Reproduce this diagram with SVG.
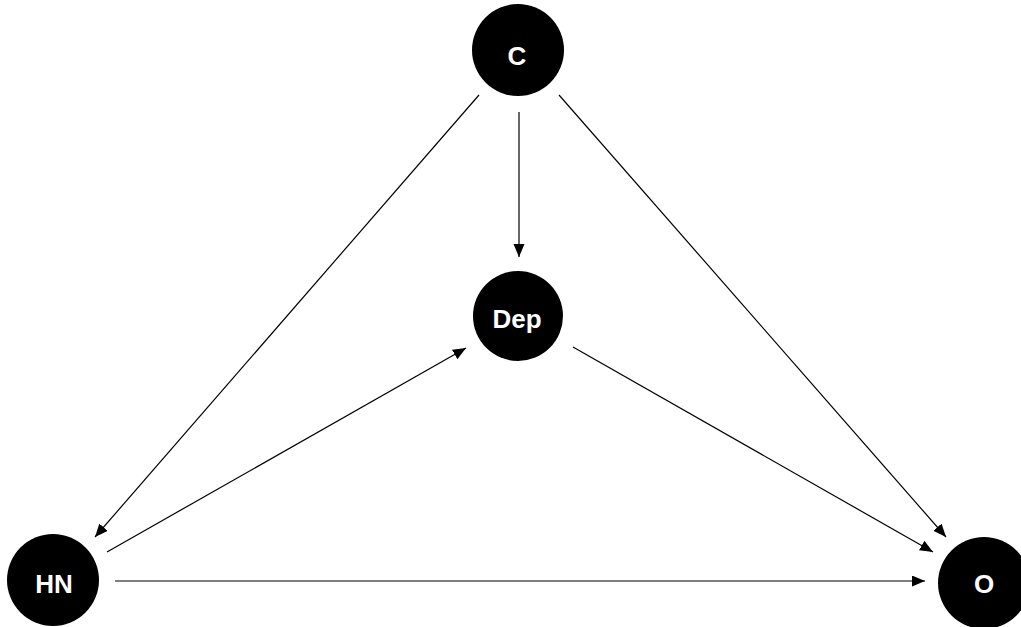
<svg xmlns="http://www.w3.org/2000/svg" width="1021" height="627" viewBox="0 0 1021 627">
<style>
.node circle{fill:#000;}
.node text{fill:#fff;font-family:"Liberation Sans",Arial,sans-serif;font-weight:bold;font-size:26px;text-anchor:middle;}
.edge{stroke:#000;stroke-width:1.2;fill:none;marker-end:url(#arr);}
</style>
<defs>
<marker id="arr" markerUnits="userSpaceOnUse" markerWidth="14" markerHeight="12" refX="13" refY="5.5" orient="auto">
<path d="M0,0 L13,5.5 L0,11 z" fill="#000"/>
</marker>
</defs>
<rect width="1021" height="627" fill="#fff"/>
<g id="connectors">
<line class="edge" x1="519" y1="112" x2="519" y2="257"/>
<line class="edge" x1="479" y1="95" x2="95" y2="537"/>
<line class="edge" x1="559" y1="95" x2="946" y2="537"/>
<line class="edge" x1="107" y1="552" x2="466" y2="348"/>
<line class="edge" x1="573" y1="347" x2="933" y2="552"/>
<line class="edge" x1="115" y1="581" x2="925" y2="581"/>
</g>
<g id="node-C" class="node">
<circle cx="518" cy="50" r="46"/>
<text x="517" y="65">C</text>
</g>
<g id="node-Dep" class="node">
<circle cx="518" cy="316" r="45"/>
<text x="517" y="328">Dep</text>
</g>
<g id="node-HN" class="node">
<circle cx="53" cy="580" r="46"/>
<text x="54" y="593">HN</text>
</g>
<g id="node-O" class="node">
<circle cx="984" cy="583" r="46"/>
<text x="984" y="593">O</text>
</g>
</svg>
